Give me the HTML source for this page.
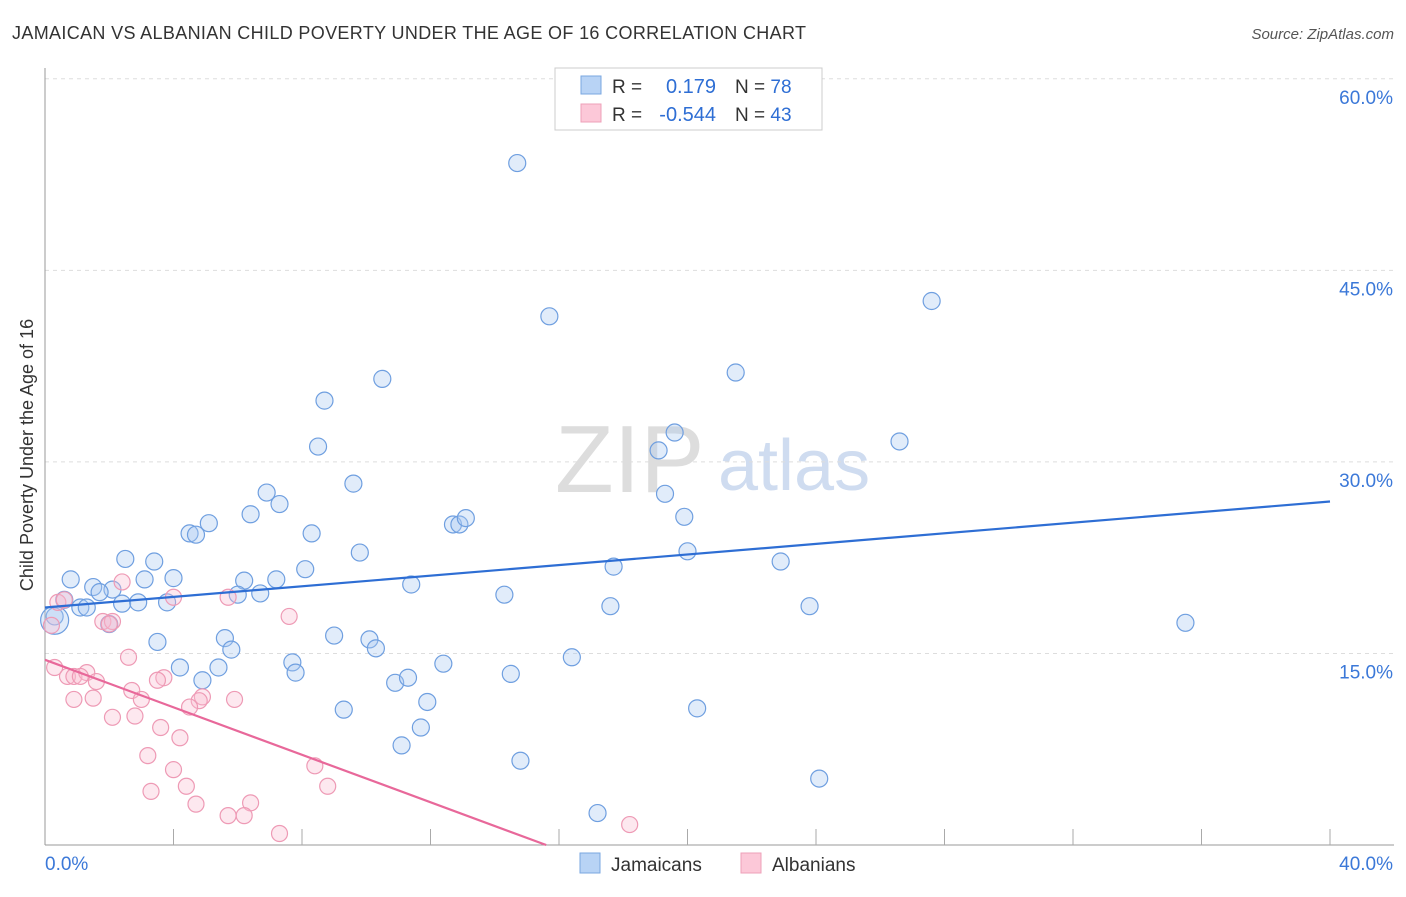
<!DOCTYPE html>
<html><head><meta charset="utf-8"><style>
body{margin:0;background:#fff;font-family:"Liberation Sans",sans-serif}
svg text{font-family:"Liberation Sans",sans-serif}
</style></head><body>
<svg width="1406" height="892" id="chart">
<text x="12" y="39" font-size="18" fill="#333" textLength="794">JAMAICAN VS ALBANIAN CHILD POVERTY UNDER THE AGE OF 16 CORRELATION CHART</text>
<text x="1394" y="39" font-size="15" fill="#555" text-anchor="end" font-style="italic">Source: ZipAtlas.com</text>
<text x="33" y="455" font-size="18" fill="#333" text-anchor="middle" transform="rotate(-90 33 455)">Child Poverty Under the Age of 16</text>
<text x="555" y="492" font-size="96" fill="#ddd" font-family="Liberation Serif">ZIP</text>
<text x="718" y="490" font-size="72" fill="#cfdcf0">atlas</text>
<g id="grid"></g><g id="pts"></g><g id="lines"></g>
<g>
<rect x="555" y="68" width="267" height="62" fill="#fff" stroke="#ccc"/>
<rect x="581" y="76" width="20" height="18" fill="#b8d3f5" stroke="#7aa7e0"/>
<rect x="581" y="104" width="20" height="18" fill="#fcc8d8" stroke="#eea0b8"/>
<text x="612" y="93" font-size="19" fill="#333">R =</text>
<text x="716" y="93" font-size="20" fill="#2e6ed4" text-anchor="end">0.179</text>
<text x="735" y="93" font-size="19" fill="#333">N = <tspan fill="#2e6ed4">78</tspan></text>
<text x="612" y="121" font-size="19" fill="#333">R =</text>
<text x="716" y="121" font-size="20" fill="#2e6ed4" text-anchor="end">-0.544</text>
<text x="735" y="121" font-size="19" fill="#333">N = <tspan fill="#2e6ed4">43</tspan></text>
</g>
<g>
<rect x="580" y="853" width="20" height="20" fill="#b8d3f5" stroke="#7aa7e0"/>
<text x="611" y="871" font-size="19" fill="#333">Jamaicans</text>
<rect x="741" y="853" width="20" height="20" fill="#fcc8d8" stroke="#eea0b8"/>
<text x="772" y="871" font-size="19" fill="#333">Albanians</text>
</g>
</svg>
<script>
const yTicks=[15,30,45,60];
const yTickLabels=["15.0%","30.0%","45.0%","60.0%"];
const xTickLabels=["0.0%","40.0%"];
const jamX=[14.7,15.7,27.6,10.5,21.5,8.7,8.5,19.1,19.6,26.6,9.6,6.9,7.3,6.4,5.1,4.5,4.7,8.3,12.7,12.9,13.1,19.3,19.9,2.5,3.4,9.8,20.0,22.9,17.7,8.1,0.8,3.1,4.0,6.2,7.2,1.5,2.1,1.7,6.7,6.0,11.4,14.3,0.6,1.1,1.3,2.4,2.9,3.8,17.6,23.8,0.3,2.0,35.5,3.5,5.6,5.8,9.0,10.1,10.3,16.4,4.2,5.4,7.7,7.8,12.4,14.5,4.9,10.9,11.3,11.9,9.3,20.3,11.7,11.1,14.8,24.1,17.2,0.3];
const jamY=[53.4,41.4,42.6,36.5,37.0,34.8,31.2,30.9,32.3,31.6,28.3,27.6,26.7,25.9,25.2,24.4,24.3,24.4,25.1,25.1,25.6,27.5,25.7,22.4,22.2,22.9,23.0,22.2,21.8,21.6,20.8,20.8,20.9,20.7,20.8,20.2,20.0,19.8,19.7,19.6,20.4,19.6,19.2,18.6,18.6,18.9,19.0,19.0,18.7,18.7,17.9,17.3,17.4,15.9,16.2,15.3,16.4,16.1,15.4,14.7,13.9,13.9,14.3,13.5,14.2,13.4,12.9,12.7,13.1,11.2,10.6,10.7,9.2,7.8,6.6,5.2,2.5,17.6];
const albX=[0.4,0.6,2.4,4.0,5.7,7.6,1.8,2.1,2.0,0.3,0.7,0.9,1.3,1.1,1.6,3.7,3.5,2.6,2.7,4.9,4.8,4.5,5.9,0.9,1.5,2.1,2.8,3.6,4.2,3.2,4.0,8.4,4.4,8.8,3.3,4.7,6.4,5.7,6.2,7.3,18.2,3.0,0.2];
const albY=[19.0,19.2,20.6,19.4,19.4,17.9,17.5,17.5,17.3,13.9,13.2,13.2,13.5,13.2,12.8,13.1,12.9,14.7,12.1,11.6,11.3,10.8,11.4,11.4,11.5,10.0,10.1,9.2,8.4,7.0,5.9,6.2,4.6,4.6,4.2,3.2,3.3,2.3,2.3,0.9,1.6,11.4,17.2];
const jamTrend=[18.6,26.9];
const albTrend=[14.5,0];const albTrendEndX=15.6;
const X=v=>45+v*32.125, Y=v=>845-v*12.77;
const NS="http://www.w3.org/2000/svg";
function mk(p,t,a){const e=document.createElementNS(NS,t);for(const k in a)e.setAttribute(k,a[k]);p.appendChild(e);return e;}
const g=document.getElementById('grid'),pts=document.getElementById('pts'),ln=document.getElementById('lines');
yTicks.forEach((t,i)=>{
 const l=mk(g,'line',{x1:45,x2:1394,y1:Y(t),y2:Y(t),stroke:'#ddd','stroke-dasharray':'4,4'});
 
 
 const tx=mk(g,'text',{x:1393,y:Y(t)+25,'font-size':19,fill:'#3b78d8','text-anchor':'end'});tx.textContent=yTickLabels[i];
 
 
});
mk(g,'line',{x1:45,x2:45,y1:68,y2:845,stroke:'#999'});
const ax=mk(g,'line',{x1:45,x2:1394,y1:845,y2:845,stroke:'#999'});


for(let v=4;v<=40;v+=4){mk(g,'line',{x1:X(v),x2:X(v),y1:829,y2:845,stroke:'#aaa'});}
const t0=mk(g,'text',{x:45,y:870,'font-size':19,fill:'#3b78d8'});t0.textContent=xTickLabels[0];


const t1=mk(g,'text',{x:1393,y:870,'font-size':19,fill:'#3b78d8','text-anchor':'end'});t1.textContent=xTickLabels[1];


jamX.forEach((x,i)=>{const r=(i===jamX.length-1)?14:8.5;
 const c=mk(pts,'circle',{cx:X(x),cy:Y(jamY[i]),r:r,fill:'rgba(170,200,240,0.35)',stroke:'#6f9fe0','stroke-width':1.2});
 
 });
albX.forEach((x,i)=>{
 const c=mk(pts,'circle',{cx:X(x),cy:Y(albY[i]),r:8,fill:'rgba(250,190,210,0.35)',stroke:'#ee9ab5','stroke-width':1.2});
 
 });
const l1=mk(ln,'line',{x1:X(0),y1:Y(jamTrend[0]),x2:X(40),y2:Y(jamTrend[1]),stroke:'#2e6ed4','stroke-width':2.2});


const l2=mk(ln,'line',{x1:X(0),y1:Y(albTrend[0]),x2:X(albTrendEndX),y2:Y(albTrend[1]),stroke:'#e8689a','stroke-width':2.2});


</script>
</body></html>
